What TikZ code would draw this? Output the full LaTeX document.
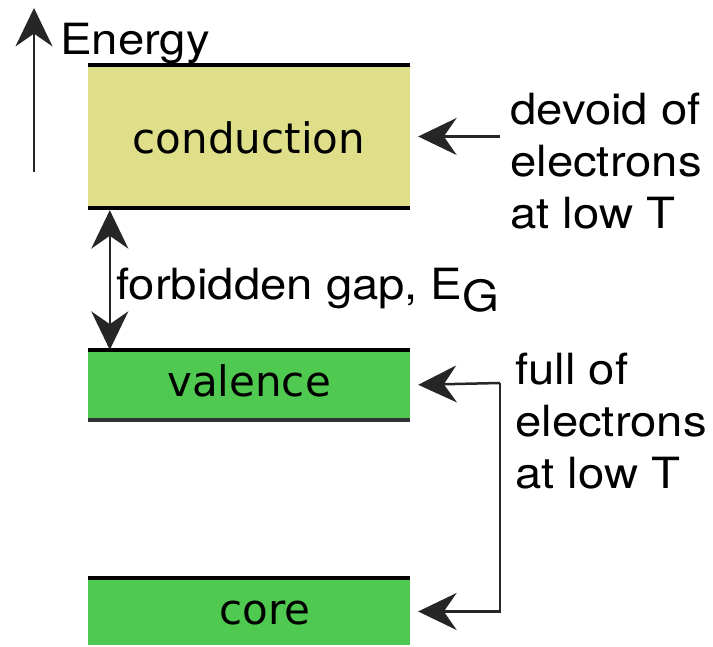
\documentclass[tikz,border=0pt]{standalone}
\usepackage{fontspec}
\setmainfont[FakeStretch=1.1]{TeX Gyre Heros}
\newfontfamily\bandfont{DejaVu Sans}
\usepackage{xcolor}
\usepackage{tikz}
\usetikzlibrary{calc,arrows.meta}
\definecolor{condyellow}{HTML}{DFDF8A}
\definecolor{valgreen}{HTML}{4FC94F}
\tikzset{
  band/.style={minimum width=322pt, inner sep=0pt, text height=23pt, text depth=0pt,
    font=\bandfont\fontsize{42}{48}\selectfont},
  edge/.style={line width=3.5pt},
  label/.style={inner sep=0pt, align=left, font=\fontsize{43}{52}\selectfont},
  pointer/.style={-{Stealth[length=1.35cm, width=1.3cm, inset=0.45cm]}, line width=2.5pt, black!85, shorten >=8pt},
  twoway/.style={{Stealth[length=1.35cm, width=1.3cm, inset=0.45cm]}-{Stealth[length=1.35cm, width=1.3cm, inset=0.45cm]}, line width=2.5pt, black!85},
}

\begin{document}
\begin{tikzpicture}[x=1pt, y=1pt]
  \useasboundingbox (0,0) rectangle (713,647);
  \node[band, fill=condyellow, minimum height=143pt] (cond) at (249,510.5) {\raisebox{-6pt}{conduction}};
  \node[band, fill=valgreen, minimum height=70pt] (val) at (249,262) {valence};
  \node[band, fill=valgreen, minimum height=67pt] (core) at (249,35.5) {\hspace*{32pt}\raisebox{-2pt}{core}};
  \draw[edge] (cond.north west) -- (cond.north east);
  \draw[edge] (cond.south west) -- (cond.south east);
  \draw[edge] (val.north west) -- (val.north east);
  \draw[edge, black!80] (val.south west) -- (val.south east);
  \draw[edge] (core.north west) -- (core.north east);

  \coordinate (ebase) at (34,475);
  \coordinate (etop) at (34,639);
  \draw[pointer, shorten >=0pt] (ebase) -- (etop);
  \node[label, anchor=base west] (energy) at (60,592) {Energy};

  \draw[twoway] ($(cond.south west)+(22,-2)$) -- ($(val.north west)+(22,0)$);
  \node[label, anchor=base west] (gap) at (116,347) {forbidden gap, E\raisebox{-12pt}{G}};

  \node[label, anchor=north west] (devoid) at (510,554) {devoid of\\electrons\\at low T};
  \draw[pointer] ($(devoid.west |- cond.east)+(-10,0)$) -- (cond.east);

  \node[label, anchor=north west] (full) at (515,294) {full of\\electrons\\at low T};
  \coordinate (fullc) at (500,264);
  \draw[pointer] (fullc) -- (val.east);
  \draw[pointer] (fullc) |- (core.east);
\end{tikzpicture}
\end{document}
